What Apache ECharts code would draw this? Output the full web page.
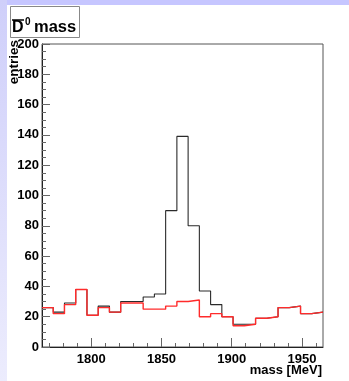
<!DOCTYPE html>
<html>
<head>
<meta charset="utf-8">
<script src="https://cdn.jsdelivr.net/npm/echarts@6/dist/echarts.min.js"></script>
<style>
html,body{margin:0;padding:0;background:#fff;}
#c{width:349px;height:381px;}
</style>
</head>
<body>
<div id="c"></div>
<script>
// bin lower edges (MeV), bin width 8
var binLow = [1765,1773,1781,1789,1797,1805,1813,1821,1829,1837,1845,1853,1861,1869,1877,1885,1893,1901,1909,1917,1925,1933,1941,1949,1957];
var binHigh = 1965;
var blackCounts = [26,23,29,38,21,27,23,30,30,33,35,90,139,80,37,28,20,15,15,19,20,26,27,22,23];
var redCounts   = [26,22,28,38,21,26,23,29,29,25,25,27,30,31,20,22,20,14,15,19,20,26,27,22,23];
var xMajorTicks = [1800,1850,1900,1950];
var xMinorTicks = [1770,1780,1790,1810,1820,1830,1840,1860,1870,1880,1890,1910,1920,1930,1940,1960];
var titleMain = 'mass';
var xTitle = 'mass [MeV]';
var yTitle = 'entries';

function stepData(counts){
  var d = binLow.map(function(x,i){ return [x, counts[i]]; });
  d.push([binHigh, counts[counts.length-1]]);
  return d;
}

var FONT = 'Liberation Sans';
var chart = echarts.init(document.getElementById('c'), null, {renderer:'canvas'});
var xBase = {
  type:'value', min:1765, max:1965, position:'bottom',
  splitLine:{show:false}
};
chart.setOption({
  animation:false,
  backgroundColor:'#ffffff',
  grid:{left:42, right:26, top:44, bottom:34, show:true, borderColor:'#555', borderWidth:1, backgroundColor:'transparent'},
  xAxis:[
    Object.assign({}, xBase, {
      axisLine:{show:true, lineStyle:{color:'#222', width:1}},
      axisTick:{show:true, inside:true, length:9, customValues:xMajorTicks, lineStyle:{color:'#666', width:1}},
      axisLabel:{show:true, customValues:xMajorTicks, margin:6, color:'#000', fontFamily:FONT, fontWeight:'bold', fontSize:13,
                 formatter:function(v){ return String(v); }}
    }),
    Object.assign({}, xBase, {
      axisLine:{show:false},
      axisTick:{show:true, inside:true, length:4, customValues:xMinorTicks, lineStyle:{color:'#666', width:1}},
      axisLabel:{show:false}
    })
  ],
  yAxis:{
    type:'value', min:0, max:200, interval:20,
    axisLine:{show:true, lineStyle:{color:'#222', width:1}},
    axisTick:{show:true, inside:true, length:8, lineStyle:{color:'#666', width:1}},
    minorTick:{show:true, splitNumber:4, length:4, lineStyle:{color:'#666', width:1}},
    splitLine:{show:false},
    axisLabel:{margin:3, color:'#000', fontFamily:FONT, fontWeight:'bold', fontSize:13}
  },
  series:[
    {type:'line', step:'end', data:stepData(blackCounts), xAxisIndex:0, symbol:'none',
     lineStyle:{color:'#2a2a2a', width:1.1}, z:2},
    {type:'line', step:'end', data:stepData(redCounts), xAxisIndex:0, symbol:'none',
     lineStyle:{color:'#ff2b2b', width:1.4}, z:3}
  ],
  graphic:[
    {type:'rect', shape:{x:0,y:0,width:349,height:5}, style:{fill:'#c6c6ff'}, z:-10},
    {type:'rect', shape:{x:0,y:0,width:7,height:381},
     style:{fill:new echarts.graphic.LinearGradient(0,0,0,1,[{offset:0,color:'#cfcffa'},{offset:1,color:'#ececfd'}])}, z:-10},
    {type:'rect', shape:{x:10.5,y:6.5,width:69,height:31}, style:{fill:'#fff', stroke:'#888', lineWidth:1}, z:10},
    {type:'text', x:12, y:36, style:{text:'D', font:'bold 16px "Liberation Sans"', fill:'#000', textVerticalAlign:'bottom'}, z:11},
    {type:'line', shape:{x1:12,y1:20,x2:24,y2:20}, style:{stroke:'#000', lineWidth:1.5}, z:11},
    {type:'text', x:25, y:17, style:{text:'0', font:'bold 10px "Liberation Sans"', fill:'#000', textVerticalAlign:'top'}, z:11},
    {type:'text', x:34, y:36, style:{text:titleMain, font:'bold 16.5px "Liberation Sans"', fill:'#000', textVerticalAlign:'bottom'}, z:11},
    {type:'text', x:322, y:377, style:{text:xTitle, font:'bold 13px "Liberation Sans"', fill:'#000', textAlign:'right', textVerticalAlign:'bottom'}, z:11},
    {type:'text', x:14, y:40, rotation:Math.PI/2, style:{text:yTitle, font:'bold 13.5px "Liberation Sans"', fill:'#000', textAlign:'right', textVerticalAlign:'middle'}, z:11}
  ]
});
</script>
</body>
</html>
